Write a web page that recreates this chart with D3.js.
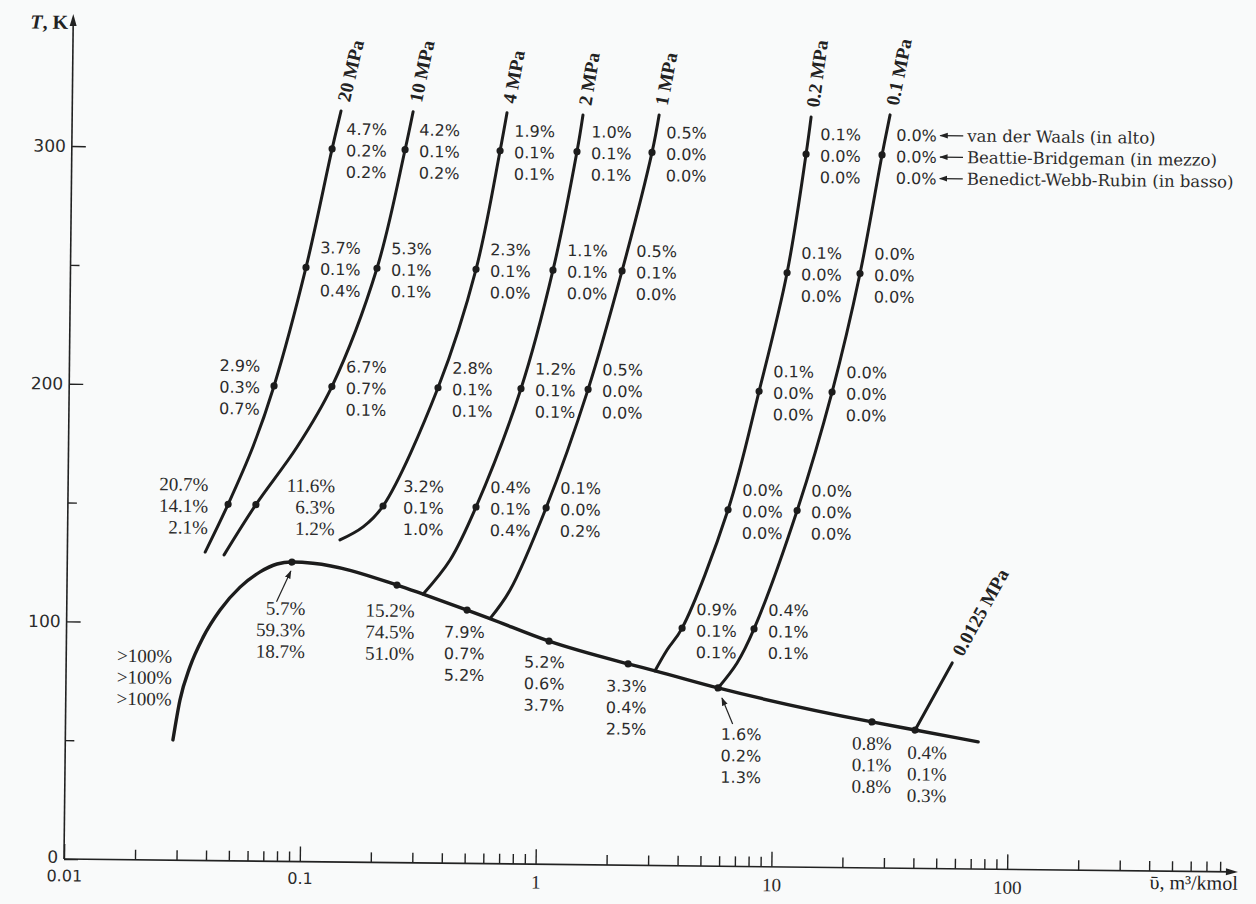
<!DOCTYPE html>
<html>
<head>
<meta charset="utf-8">
<script src="https://cdn.jsdelivr.net/npm/d3@7"></script>
<style>
  html, body { margin: 0; padding: 0; background: #f9fafa; }
  svg { display: block; }
  .pct { font-family: "DejaVu Sans", sans-serif; font-size: 16px; fill: #2b2b2b; }
  .pct.serif { font-family: "Liberation Serif", serif; font-size: 19px; }
  .curve { fill: none; stroke: #1c1c1c; stroke-width: 3px; stroke-linecap: round; }
  .dome { stroke-width: 3.4px; }
  .axis line { stroke: #222; stroke-width: 1.4px; }
  .axis text { fill: #2b2b2b; }
  .tick-sans { font-family: "DejaVu Sans", sans-serif; font-size: 16px; }
  .tick-serif { font-family: "Liberation Serif", serif; font-size: 19px; }
  .plabel { font-family: "Liberation Serif", serif; font-weight: bold; font-size: 19px; fill: #222; }
  .legend { font-family: "DejaVu Serif", serif; font-size: 16.5px; fill: #2b2b2b; }
</style>
</head>
<body>
<svg width="1256" height="904"></svg>
<script>
// ---- data (v in m3/kmol, T in K) ----
var xMajor = [0.01, 0.1, 1, 10, 100];
var xLabels = ["0.01", "0.1", "1", "10", "100"];
var xMinor = [0.02,0.03,0.04,0.05,0.06,0.07,0.08,0.09,
              0.2,0.3,0.4,0.5,0.6,0.7,0.8,0.9,
              2,3,4,5,6,7,8,9,
              20,30,40,50,60,70,80,90,
              200,300,400,500,600,700,800];
var yMajor = [0, 100, 200, 300];
var yMinor = [50, 150, 250];

var pressures = ["20 MPa", "10 MPa", "4 MPa", "2 MPa", "1 MPa", "0.2 MPa", "0.1 MPa"];

var iso20 = [[0.0384,129.8],[0.0478,150],[0.0606,174.4],[0.0739,200],[0.0997,250],[0.127,300],[0.138,316]];
var iso10 = [[0.0462,128.7],[0.0627,150],[0.0931,174.4],[0.130,200],[0.1994,250],[0.259,300],[0.279,316]];
var iso4  = [[0.143,135.5],[0.179,141.1],[0.217,150],[0.3665,200],[0.5245,250],[0.655,300],[0.698,316]];
var iso2  = [[0.3237,113.1],[0.42,127.6],[0.538,150],[0.824,200],[1.112,250],[1.388,300],[1.466,315.4]];
var iso1  = [[0.624,103.1],[0.757,115.2],[1.067,150],[1.587,200],[2.183,250],[2.888,300],[3.083,315.8]];
var iso02 = [[3.145,81.9],[3.527,90.7],[4.077,100],[6.306,150],[8.43,200],[10.94,250],[13.0,300],[13.6,315.6]];
var iso01 = [[5.83,75.0],[7.0,85.6],[8.23,100],[12.38,150],[17.19,200],[22.3,250],[27.3,300],[29.4,316.9]];
var iso00125 = [[40.1,58.2],[57.2,86.6]];

// errors: van der Waals, Beattie-Bridgeman, Benedict-Webb-Rubin
var err20 = [[300,"4.7%","0.2%","0.2%"],[250,"3.7%","0.1%","0.4%"],[200,"2.9%","0.3%","0.7%"],[150,"20.7%","14.1%","2.1%"]];
var err10 = [[300,"4.2%","0.1%","0.2%"],[250,"5.3%","0.1%","0.1%"],[200,"6.7%","0.7%","0.1%"],[150,"11.6%","6.3%","1.2%"]];
var err4  = [[300,"1.9%","0.1%","0.1%"],[250,"2.3%","0.1%","0.0%"],[200,"2.8%","0.1%","0.1%"],[150,"3.2%","0.1%","1.0%"]];
var err2  = [[300,"1.0%","0.1%","0.1%"],[250,"1.1%","0.1%","0.0%"],[200,"1.2%","0.1%","0.1%"],[150,"0.4%","0.1%","0.4%"]];
var err1  = [[300,"0.5%","0.0%","0.0%"],[250,"0.5%","0.1%","0.0%"],[200,"0.5%","0.0%","0.0%"],[150,"0.1%","0.0%","0.2%"]];
var err02 = [[300,"0.1%","0.0%","0.0%"],[250,"0.1%","0.0%","0.0%"],[200,"0.1%","0.0%","0.0%"],[150,"0.0%","0.0%","0.0%"],[100,"0.9%","0.1%","0.1%"]];
var err01 = [[300,"0.0%","0.0%","0.0%"],[250,"0.0%","0.0%","0.0%"],[200,"0.0%","0.0%","0.0%"],[150,"0.0%","0.0%","0.0%"],[100,"0.4%","0.1%","0.1%"]];

// saturation dome
var satLiq = [[0.0286,50.6],[0.0305,67.4],[0.0335,81.4],[0.0380,94.0],[0.0447,105.5],[0.0542,115.2],[0.0658,121.7],[0.0776,125.1],[0.0897,126.0]];
var satVap = [[0.0897,126.0],[0.110,125.6],[0.2508,116.8],[0.3237,113.1],[0.4985,106.6],[0.624,103.1],
              [1.113,93.9],[2.415,84.7],[3.145,81.9],[5.83,75.0],[26.3,61.4],[40.1,58.2],[74.3,53.5]];
var satDots = [[0.0897,126.0],[0.2508,116.8],[0.4985,106.6],[1.113,93.9],[2.415,84.7],[5.83,75.0],[26.3,61.4],[40.1,58.2]];
var satErr = [["5.7%","59.3%","18.7%"],["15.2%","74.5%","51.0%"],["7.9%","0.7%","5.2%"],["5.2%","0.6%","3.7%"],
              ["3.3%","0.4%","2.5%"],["1.6%","0.2%","1.3%"],["0.8%","0.1%","0.8%"],["0.4%","0.1%","0.3%"]];
var liqErr = [">100%", ">100%", ">100%"];

var legendNames = ["van der Waals (in alto)", "Beattie-Bridgeman (in mezzo)", "Benedict-Webb-Rubin (in basso)"];

// ---- layout of the labels (pixels) ----
var isoLay = {
    "20 MPa|200": {dx: -14, anchor: "end"},
    "20 MPa|150": {dx: -20, anchor: "end"},
    "10 MPa|150": {dx: 79, anchor: "end"},
    "4 MPa|150": {dx: 20}
};
var serifIso = {"20 MPa|150": 1, "10 MPa|150": 1};
var satLay = [
    {dx: 14, dy: 46}, {dx: 18, dy: 25}, {dx: 18, dy: 22}, {dx: 16, dy: 21},
    {dx: 19, dy: 22}, {dx: 44, dy: 46}, {dx: 20, dy: 21}, {dx: 32, dy: 22}
];
var serifSat = [1, 1, 0, 0, 0, 0, 1, 1];
var lineGap = 21.5;

// ---- drawing ----
var svg = d3.select("svg"),
    tilt = 0.63,   // the scanned page sits a little crooked
    g = svg.append("g").attr("transform", "rotate(" + tilt + ",64,859)");

var x = d3.scaleLog().domain([0.01, 1000]).range([64, 1243]);
var y = d3.scaleLinear().domain([0, 300]).range([859, 146]);

var defs = svg.append("defs");
defs.append("marker").attr("id", "ah")
    .attr("viewBox", "0 0 10 10").attr("refX", 9).attr("refY", 5)
    .attr("markerWidth", 7).attr("markerHeight", 7).attr("orient", "auto")
  .append("path").attr("d", "M0,1.5L10,5L0,8.5Z").attr("fill", "#222");

// axes
g.append("g").attr("class", "axis").attr("transform", "translate(0," + y(0) + ")")
    .call(d3.axisBottom(x).tickValues(xMinor).tickSize(-10).tickFormat(""))
    .call(function(a) { a.select(".domain").remove(); });
g.append("g").attr("class", "axis").attr("transform", "translate(0," + y(0) + ")")
    .call(d3.axisBottom(x).tickValues(xMajor).tickSize(-15).tickPadding(11)
        .tickFormat(function(d, i) { return xLabels[i]; }))
    .call(function(a) {
        a.select(".domain").remove();
        a.selectAll("text").attr("class", function(d) { return d < 1 ? "tick-sans" : "tick-serif"; });
    });
g.append("g").attr("class", "axis").attr("transform", "translate(" + x(0.01) + ",0)")
    .call(d3.axisLeft(y).tickValues(yMinor).tickSize(-9).tickFormat(""))
    .call(function(a) { a.select(".domain").remove(); });
g.append("g").attr("class", "axis").attr("transform", "translate(" + x(0.01) + ",0)")
    .call(d3.axisLeft(y).tickValues(yMajor).tickSize(-14).tickPadding(6))
    .call(function(a) {
        a.select(".domain").remove();
        a.selectAll("text").attr("class", "tick-sans").style("font-size", "17px");
        a.selectAll(".tick").filter(function(d) { return d === 0; }).select("text").attr("dy", "0.2em");
    });

var x0 = x(0.01), y0 = y(0), xEnd = 1238, yTop = 14;
g.append("line").attr("x1", x0).attr("y1", y0).attr("x2", xEnd - 6).attr("y2", y0)
    .attr("stroke", "#222").attr("stroke-width", 1.6);
g.append("path").attr("d", "M" + xEnd + "," + y0 + "l-12,-3.5v7z").attr("fill", "#222");
g.append("line").attr("x1", x0).attr("y1", y0).attr("x2", x0).attr("y2", yTop + 6)
    .attr("stroke", "#222").attr("stroke-width", 1.6);
g.append("path").attr("d", "M" + x0 + "," + yTop + "l-3.5,12h7z").attr("fill", "#222");

var tk = g.append("text").attr("x", x0 - 5).attr("y", 29).attr("text-anchor", "end")
    .attr("font-family", "Liberation Serif, serif").attr("font-weight", "bold").attr("font-size", 20).attr("fill", "#222");
tk.append("tspan").attr("font-style", "italic").text("T");
tk.append("tspan").text(", K");

g.append("text").attr("x", xEnd).attr("y", y0 + 18).attr("text-anchor", "end")
    .attr("font-family", "Liberation Serif, serif").attr("font-size", 20).attr("fill", "#222")
    .text("\u03C5\u0304, m\u00B3/kmol");

// curves
var line = d3.line().x(function(d) { return x(d[0]); }).y(function(d) { return y(d[1]); })
    .curve(d3.curveCatmullRom.alpha(0.5));
var domeLine = d3.line().x(function(d) { return x(d[0]); }).y(function(d) { return y(d[1]); })
    .curve(d3.curveMonotoneX);

var isobars = [iso20, iso10, iso4, iso2, iso1, iso02, iso01];
var errs = [err20, err10, err4, err2, err1, err02, err01];

g.append("path").attr("class", "curve dome").attr("d", domeLine(satLiq.concat(satVap.slice(1))));
isobars.forEach(function(pts) { g.append("path").attr("class", "curve").attr("d", line(pts)); });
g.append("path").attr("class", "curve").attr("d", line(iso00125));

// pressure names written along the top of each curve
function pressureLabel(pts, name) {
    var a = pts[pts.length - 1], b = pts[pts.length - 2];
    var ax = x(a[0]), ay = y(a[1]), bx = x(b[0]), by = y(b[1]);
    var ang = Math.atan2(ay - by, ax - bx);
    g.append("text").attr("class", "plabel")
        .attr("transform", "translate(" + ax + "," + ay + ") rotate(" + (ang * 180 / Math.PI) + ")")
        .attr("x", 10).attr("dy", "0.35em").text(name);
}
isobars.forEach(function(pts, i) { pressureLabel(pts, pressures[i]); });
pressureLabel(iso00125, "0.0125 MPa");

// three stacked percentages
function tripleLabel(px, py, vals, dx, dy, anchor, serif) {
    var t = g.append("text").attr("class", serif ? "pct serif" : "pct").attr("text-anchor", anchor || "start");
    vals.forEach(function(s, i) {
        t.append("tspan").attr("x", px + dx).attr("y", py + dy + i * lineGap).attr("dy", "0.36em").text(s);
    });
}

function dot(px, py) {
    g.append("circle").attr("cx", px).attr("cy", py).attr("r", 3.6).attr("fill", "#1c1c1c");
}

isobars.forEach(function(pts, i) {
    errs[i].forEach(function(e) {
        var p = pts.find(function(q) { return q[1] === e[0]; });
        var px = x(p[0]), py = y(p[1]);
        var key = pressures[i] + "|" + e[0];
        var lay = isoLay[key] || {};
        dot(px, py);
        tripleLabel(px, py, e.slice(1), lay.dx != null ? lay.dx : 14, e[0] === 100 ? -19 : -20, lay.anchor, serifIso[key]);
    });
});

satDots.forEach(function(p, i) {
    var px = x(p[0]), py = y(p[1]);
    dot(px, py);
    tripleLabel(px, py, satErr[i], satLay[i].dx, satLay[i].dy, "end", serifSat[i]);
});

// pointer arrows to the critical point and the 0.1 MPa saturation point
function pointer(p, fx, fy, tx, ty) {
    var px = x(p[0]), py = y(p[1]);
    g.append("line").attr("x1", px + fx).attr("y1", py + fy).attr("x2", px + tx).attr("y2", py + ty)
        .attr("stroke", "#222").attr("stroke-width", 1.2).attr("marker-end", "url(#ah)");
}
pointer(satDots[0], -15, 40, -1, 9);
pointer(satDots[5], 15, 36, 4, 10);

var lq = satLiq[2];
tripleLabel(x(lq[0]), y(lq[1]), liqErr, -18, -11, "end", true);

// legend next to the 0.1 MPa / 300 K values
var lp = iso01.find(function(q) { return q[1] === 300; });
var lx = x(lp[0]), ly = y(lp[1]);
legendNames.forEach(function(name, i) {
    var yy = ly - 20 + i * lineGap;
    g.append("line").attr("x1", lx + 81).attr("y1", yy).attr("x2", lx + 58).attr("y2", yy)
        .attr("stroke", "#222").attr("stroke-width", 1.2).attr("marker-end", "url(#ah)");
    g.append("text").attr("class", "legend").attr("x", lx + 85).attr("y", yy).attr("dy", "0.35em").text(name);
});
</script>
</body>
</html>
